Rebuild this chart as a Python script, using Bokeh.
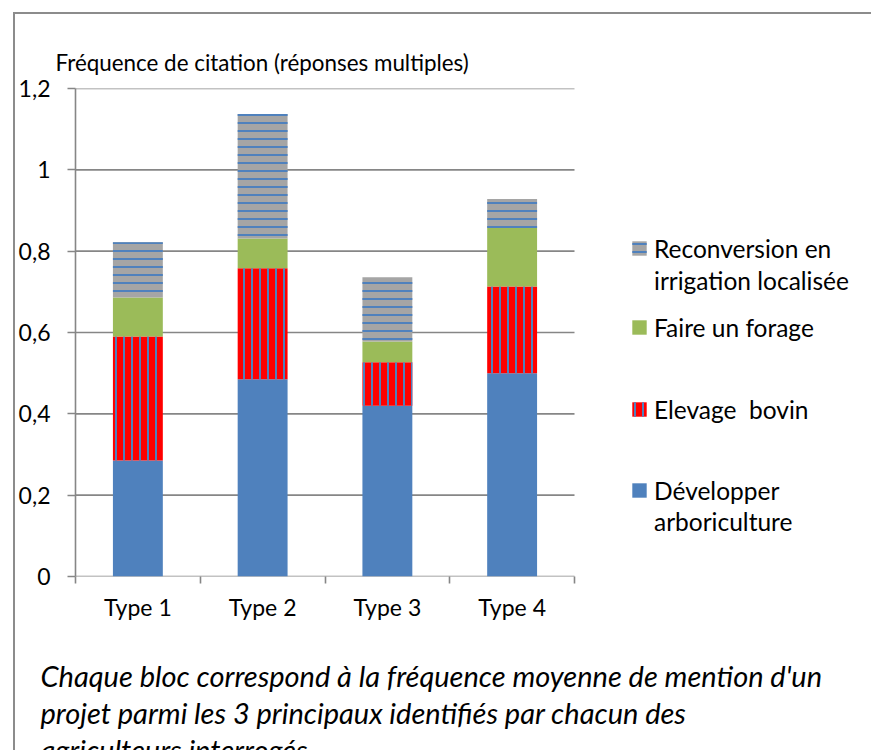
from bokeh.plotting import figure
from bokeh.models import (ColumnDataSource, FixedTicker, CustomJSTickFormatter,
                          Legend, LegendItem, Title)
from bokeh.embed import file_html
from bokeh.resources import INLINE

categories = ["Type 1", "Type 2", "Type 3", "Type 4"]
developper_arboriculture = [0.285, 0.485, 0.42, 0.50]
elevage_bovin = [0.305, 0.273, 0.107, 0.213]
faire_un_forage = [0.096, 0.073, 0.051, 0.144]
reconversion_irrigation = [0.136, 0.306, 0.158, 0.071]
series_labels = ["Développer\narboriculture", "Elevage  bovin",
                 "Faire un forage", "Reconversion en\nirrigation localisée"]
y_ticks = [0, 0.2, 0.4, 0.6, 0.8, 1.0, 1.2]
y_axis_title = "Fréquence de citation (réponses multiples)"
caption_lines = ["Chaque bloc correspond à la fréquence moyenne de mention d'un",
                 "projet parmi les 3 principaux identifiés par chacun des",
                 "agriculteurs interrogés"]

FONT = "Lato"
GRID = "#868686"
W, H = 858, 738
LEFT, TOP, BOTTOM = 60, 74, 176
PLOT_W = 499                     # pixel width of the category area
FRAME_W = W - LEFT               # frame also holds the legend on its right

x = list(range(1, len(categories) + 1))
x_lo = 0.5
x_hi = len(categories) + 0.5
source = ColumnDataSource(dict(x=x, dev=developper_arboriculture, elev=elevage_bovin,
                               forage=faire_un_forage, recon=reconversion_irrigation))

p = figure(width=W, height=H,
           x_range=(x_lo, x_lo + (x_hi - x_lo) * FRAME_W / PLOT_W), y_range=(0, 1.2),
           output_backend="svg", toolbar_location=None,
           min_border_left=LEFT, min_border_right=0, min_border_top=TOP,
           min_border_bottom=BOTTOM)
p.styles = {"margin-left": "13px", "margin-top": "12px",
            "border-left": "2px solid #8C8C8C", "border-top": "2px solid #8C8C8C"}
p.outline_line_color = None
p.xgrid.visible = False
p.ygrid.visible = False

# horizontal gridlines limited to the category area
p.segment(x0=[x_lo] * len(y_ticks), x1=[x_hi] * len(y_ticks), y0=y_ticks, y1=y_ticks,
          line_color=GRID, line_width=1.6)

renderers = p.vbar_stack(["dev", "elev", "forage", "recon"], x="x", width=0.4, source=source,
                         fill_color=["#4F81BD", "#FF0000", "#9BBB59", "#A5A5A5"],
                         line_color=None,
                         hatch_pattern=[" ", "vertical_line", " ", "horizontal_line"],
                         hatch_color="#4F81BD", hatch_scale=8, hatch_weight=2)
# invisible renderer used for legend lines without a swatch
blank = p.vbar(x=[], top=[], width=0.4, fill_alpha=0, line_alpha=0)

# x axis (line drawn by the 0 gridline)
p.xaxis.ticker = FixedTicker(ticks=x, minor_ticks=[i + 0.5 for i in range(len(categories) + 1)])
p.xaxis.major_label_overrides = {i: c for i, c in zip(x, categories)}
p.xaxis.axis_line_color = None
p.xaxis.major_tick_out = 0
p.xaxis.major_tick_in = 0
p.xaxis.minor_tick_out = 7
p.xaxis.minor_tick_in = 0
p.xaxis.minor_tick_line_color = GRID
p.xaxis.minor_tick_line_width = 1.6
p.xaxis.major_label_standoff = 9
p.xaxis.major_label_text_font = FONT
p.xaxis.major_label_text_font_size = "23px"
p.xaxis.major_label_text_color = "black"

# y axis
p.yaxis.ticker = FixedTicker(ticks=y_ticks, minor_ticks=[])
p.yaxis.formatter = CustomJSTickFormatter(
    code="return (Math.round(tick*10)/10).toString().replace('.', ',')")
p.yaxis.major_tick_out = 8
p.yaxis.major_tick_in = 0
p.yaxis.major_tick_line_color = GRID
p.yaxis.major_tick_line_width = 1.6
p.yaxis.axis_line_color = GRID
p.yaxis.axis_line_width = 1.6
p.yaxis.major_label_standoff = 17
p.yaxis.major_label_text_font = FONT
p.yaxis.major_label_text_font_size = "23px"
p.yaxis.major_label_text_color = "black"

# title above the plot area
p.title.text = y_axis_title
p.title.align = "left"
p.title.offset = -20
p.title.standoff = 26
p.title.text_font = FONT
p.title.text_font_size = "22.4px"
p.title.text_font_style = "normal"
p.title.text_color = "black"

# caption below (first entry is a spacer)
p.add_layout(Title(text=" ", align="left", standoff=44, text_font_size="1px"), "below")
for line, so in zip(caption_lines, [-30, 30, -30]):
    p.add_layout(Title(text=line, align="left", offset=-35, standoff=so,
                       text_font=FONT, text_font_size="29px", text_font_style="italic",
                       text_color="black"), "below")

# legend: one small legend per text line, placed inside the (wide) frame
LEG_X = 555
line_pos = [[71, 40], [152], [234], [313, 281]]   # bottom offsets, per entry and line
for (lab, r), ys in zip(zip(series_labels, renderers), line_pos):
    for k, (text_line, yb) in enumerate(zip(lab.split("\n"), ys)):
        leg = Legend(items=[LegendItem(label=text_line, renderers=[r if k == 0 else blank])],
                     location=(LEG_X, yb), padding=0, margin=0,
                     border_line_color=None, background_fill_alpha=0,
                     glyph_width=18, glyph_height=18, label_standoff=6, label_height=30,
                     label_text_font=FONT, label_text_font_size="24.5px",
                     label_text_color="black")
        p.add_layout(leg)

open("out.html", "w").write(file_html(p, INLINE))
